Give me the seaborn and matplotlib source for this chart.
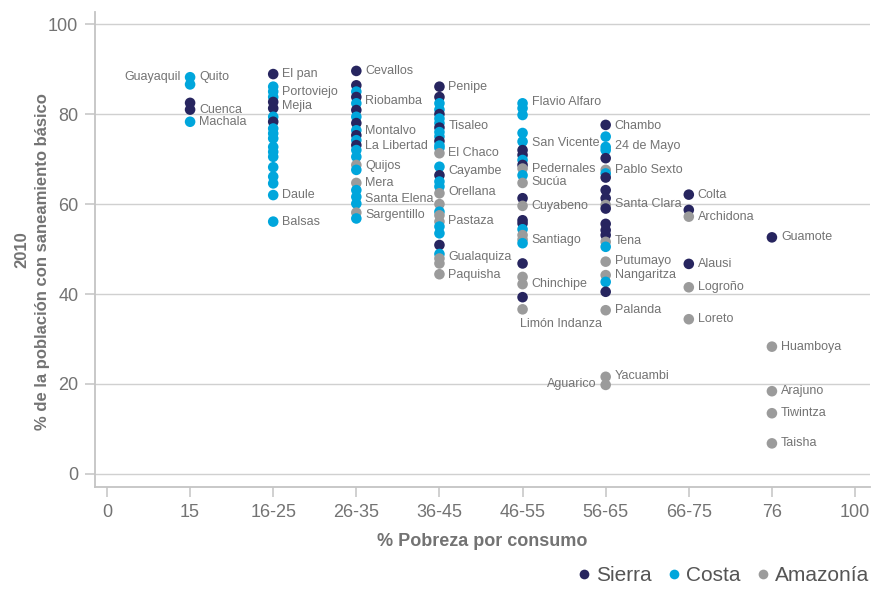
import matplotlib
matplotlib.use("Agg")
import matplotlib.pyplot as plt
import seaborn as sns
import pandas as pd
from matplotlib.lines import Line2D

# ---------------- data ----------------
categorias = ["0", "15", "16-25", "26-35", "36-45", "46-55", "56-65", "66-75", "76", "100"]
regiones = ["Sierra", "Costa", "Amazonía"]

g15_val = [88.2, 86.6, 82.5, 81.0, 78.3]
g15_reg = ["Costa", "Costa", "Sierra", "Sierra", "Costa"]

g16_val = [88.9, 86.1, 85.0, 83.8, 82.7, 81.3, 79.4, 78.3, 76.8, 75.7, 74.6, 72.7, 71.6, 70.5,
           68.2, 66.1, 64.6, 62.0, 56.1]
g16_reg = ["Sierra", "Costa", "Costa", "Costa", "Sierra", "Sierra", "Costa", "Sierra", "Costa",
           "Costa", "Costa", "Costa", "Costa", "Costa", "Costa", "Costa", "Costa", "Costa", "Costa"]

g26_val = [89.6, 86.4, 85.0, 83.8, 82.4, 80.9, 79.4, 78.0, 76.4, 75.3, 74.2, 73.1, 72.0, 70.5,
           68.7, 67.6, 64.7, 63.1, 61.6, 60.1, 58.1, 56.8]
g26_reg = ["Sierra", "Sierra", "Costa", "Sierra", "Costa", "Sierra", "Costa", "Sierra", "Costa",
           "Sierra", "Costa", "Sierra", "Costa", "Costa", "Amazonía", "Costa", "Amazonía", "Costa",
           "Costa", "Costa", "Amazonía", "Costa"]

g36_val = [86.1, 83.8, 82.4, 81.0, 80.0, 79.0, 78.0, 77.0, 76.0, 75.0, 74.0, 73.0, 72.5, 71.3,
           68.3, 66.4, 65.0, 63.9, 62.4, 60.0, 58.3, 57.5, 56.1, 55.0, 53.5, 50.9, 48.9, 47.9,
           46.8, 44.4]
g36_reg = ["Sierra", "Sierra", "Costa", "Costa", "Sierra", "Costa", "Costa", "Sierra", "Costa",
           "Costa", "Sierra", "Costa", "Costa", "Amazonía", "Costa", "Sierra", "Costa", "Costa",
           "Amazonía", "Amazonía", "Costa", "Amazonía", "Amazonía", "Costa", "Costa", "Sierra",
           "Costa", "Amazonía", "Amazonía", "Amazonía"]

g46_val = [82.4, 81.3, 79.8, 75.8, 73.9, 72.0, 70.9, 69.8, 68.7, 67.9, 66.4, 64.7, 61.3, 59.6,
           56.4, 55.7, 54.4, 53.1, 52.1, 51.3, 46.8, 43.8, 42.2, 39.3, 36.6]
g46_reg = ["Costa", "Costa", "Costa", "Costa", "Costa", "Sierra", "Sierra", "Costa", "Sierra",
           "Amazonía", "Costa", "Amazonía", "Sierra", "Amazonía", "Sierra", "Sierra", "Costa",
           "Amazonía", "Amazonía", "Costa", "Sierra", "Amazonía", "Amazonía", "Sierra", "Amazonía"]

g56_val = [77.6, 75.0, 72.7, 72.0, 70.2, 67.6, 66.8, 65.9, 63.1, 61.3, 59.8, 59.0, 55.6, 54.2,
           53.1, 51.6, 50.5, 47.2, 44.2, 42.7, 40.5, 36.4, 21.6, 19.8]
g56_reg = ["Sierra", "Costa", "Costa", "Costa", "Sierra", "Amazonía", "Costa", "Sierra", "Sierra",
           "Sierra", "Amazonía", "Sierra", "Sierra", "Sierra", "Sierra", "Amazonía", "Costa",
           "Amazonía", "Amazonía", "Costa", "Sierra", "Amazonía", "Amazonía", "Amazonía"]

g66_val = [62.1, 58.7, 57.2, 46.7, 41.5, 34.4]
g66_reg = ["Sierra", "Sierra", "Amazonía", "Sierra", "Amazonía", "Amazonía"]

g76_val = [52.6, 28.3, 18.4, 13.5, 6.8]
g76_reg = ["Sierra", "Amazonía", "Amazonía", "Amazonía", "Amazonía"]

etiqueta_nombre = ["Guayaquil", "Quito", "Cuenca", "Machala",
                   "El pan", "Portoviejo", "Mejia", "Daule", "Balsas",
                   "Cevallos", "Riobamba", "Montalvo", "La Libertad", "Quijos", "Mera",
                   "Santa Elena", "Sargentillo",
                   "Penipe", "Tisaleo", "El Chaco", "Cayambe", "Orellana", "Pastaza",
                   "Gualaquiza", "Paquisha",
                   "Flavio Alfaro", "San Vicente", "Pedernales", "Sucúa", "Cuyabeno", "Santiago",
                   "Chinchipe", "Limón Indanza",
                   "Chambo", "24 de Mayo", "Pablo Sexto", "Santa Clara", "Tena", "Putumayo",
                   "Nangaritza", "Palanda", "Yacuambi", "Aguarico",
                   "Colta", "Archidona", "Alausi", "Logroño", "Loreto",
                   "Guamote", "Huamboya", "Arajuno", "Tiwintza", "Taisha"]
etiqueta_grupo = ["15"] * 4 + ["16-25"] * 5 + ["26-35"] * 8 + ["36-45"] * 8 + ["46-55"] * 8 + \
                 ["56-65"] * 10 + ["66-75"] * 5 + ["76"] * 5
etiqueta_valor = [88.2, 88.2, 80.9, 78.3,
                  88.9, 84.9, 81.8, 62.0, 56.1,
                  89.6, 83.0, 76.3, 73.0, 68.5, 64.6, 61.2, 57.5,
                  86.1, 77.3, 71.3, 67.3, 62.7, 56.2, 48.2, 44.2,
                  82.7, 73.6, 67.8, 64.9, 59.6, 52.0, 42.2, 36.6,
                  77.3, 72.9, 67.6, 60.0, 51.8, 47.3, 44.2, 36.4, 21.8, 20.0,
                  62.1, 57.2, 46.7, 41.5, 34.4,
                  52.6, 28.3, 18.4, 13.5, 6.8]

# ---------------- build table ----------------
grupos = [("15", g15_val, g15_reg), ("16-25", g16_val, g16_reg), ("26-35", g26_val, g26_reg),
          ("36-45", g36_val, g36_reg), ("46-55", g46_val, g46_reg), ("56-65", g56_val, g56_reg),
          ("66-75", g66_val, g66_reg), ("76", g76_val, g76_reg)]
rows = []
for cat, vals, regs in grupos:
    for v, r in zip(vals, regs):
        rows.append({"pos": categorias.index(cat), "valor": v, "region": r})
df = pd.DataFrame(rows)

# ---------------- style ----------------
sns.set_theme(style="white")
plt.rcParams["font.family"] = ["Liberation Sans", "DejaVu Sans"]

colores = {"Sierra": "#27255f", "Costa": "#00a6dc", "Amazonía": "#9b9b9b"}
gris_txt = "#737373"

fig = plt.figure(figsize=(8.72, 5.89), dpi=100)
ax = fig.add_axes([95 / 872, 1 - 487 / 589, (870 - 95) / 872, (487 - 12) / 589])

sns.scatterplot(data=df, x="pos", y="valor", hue="region", hue_order=regiones,
                palette=colores, s=58, linewidth=0, edgecolor="none", alpha=1,
                ax=ax, zorder=3)

# labels
left_side = {"Guayaquil", "Aguarico"}
for nombre, grp, val in zip(etiqueta_nombre, etiqueta_grupo, etiqueta_valor):
    xp = categorias.index(grp)
    if nombre in left_side:
        ax.annotate(nombre, (xp, val), xytext=(-6.5, 0), textcoords="offset points",
                    ha="right", va="center", fontsize=9, color=gris_txt, zorder=4)
    elif nombre == "Limón Indanza":
        ax.annotate(nombre, (xp, val), xytext=(-2, -10.5), textcoords="offset points",
                    ha="left", va="center", fontsize=9, color=gris_txt, zorder=4)
    else:
        ax.annotate(nombre, (xp, val), xytext=(6.5, 0), textcoords="offset points",
                    ha="left", va="center", fontsize=9, color=gris_txt, zorder=4)

# axes
ax.set_xlim(-0.144, 9.18)
ax.set_ylim(-2.9, 102.7)
ax.set_xticks(range(len(categorias)))
ax.set_xticklabels(categorias)
ax.set_yticks([0, 20, 40, 60, 80, 100])
ax.yaxis.grid(True, color="#d0d0d0", linewidth=1.0, zorder=0)
ax.xaxis.grid(False)
for side in ["top", "right"]:
    ax.spines[side].set_visible(False)
for side in ["left", "bottom"]:
    ax.spines[side].set_color("#c4c4c4")
    ax.spines[side].set_linewidth(1.3)
ax.tick_params(axis="both", direction="out", length=7, width=1.1, color="#c4c4c4",
               labelsize=13, labelcolor=gris_txt, pad=5, left=True, bottom=True)

ax.set_xlabel("% Pobreza por consumo", fontsize=13, fontweight="bold", color=gris_txt,
              labelpad=9)
ax.set_ylabel("")
fig.text(22 / 872, 1 - 250 / 589, "2010", rotation=90, ha="center", va="center",
         fontsize=12, fontweight="bold", color=gris_txt)
fig.text(42 / 872, 1 - 262 / 589, "% de la población con saneamiento básico", rotation=90,
         ha="center", va="center", fontsize=12, fontweight="bold", color=gris_txt)

# legend
ax.get_legend().remove()
handles = [Line2D([0], [0], marker="o", linestyle="", markersize=7,
                  markerfacecolor=colores[r], markeredgewidth=0) for r in regiones]
leg = fig.legend(handles, regiones, loc="lower right", bbox_to_anchor=(1.018, -0.025),
                 ncol=3, frameon=False, fontsize=15, handletextpad=0.05,
                 columnspacing=0.6, handlelength=1.0)
for t in leg.get_texts():
    t.set_color("#555555")

fig.savefig("out.png", dpi=100)
